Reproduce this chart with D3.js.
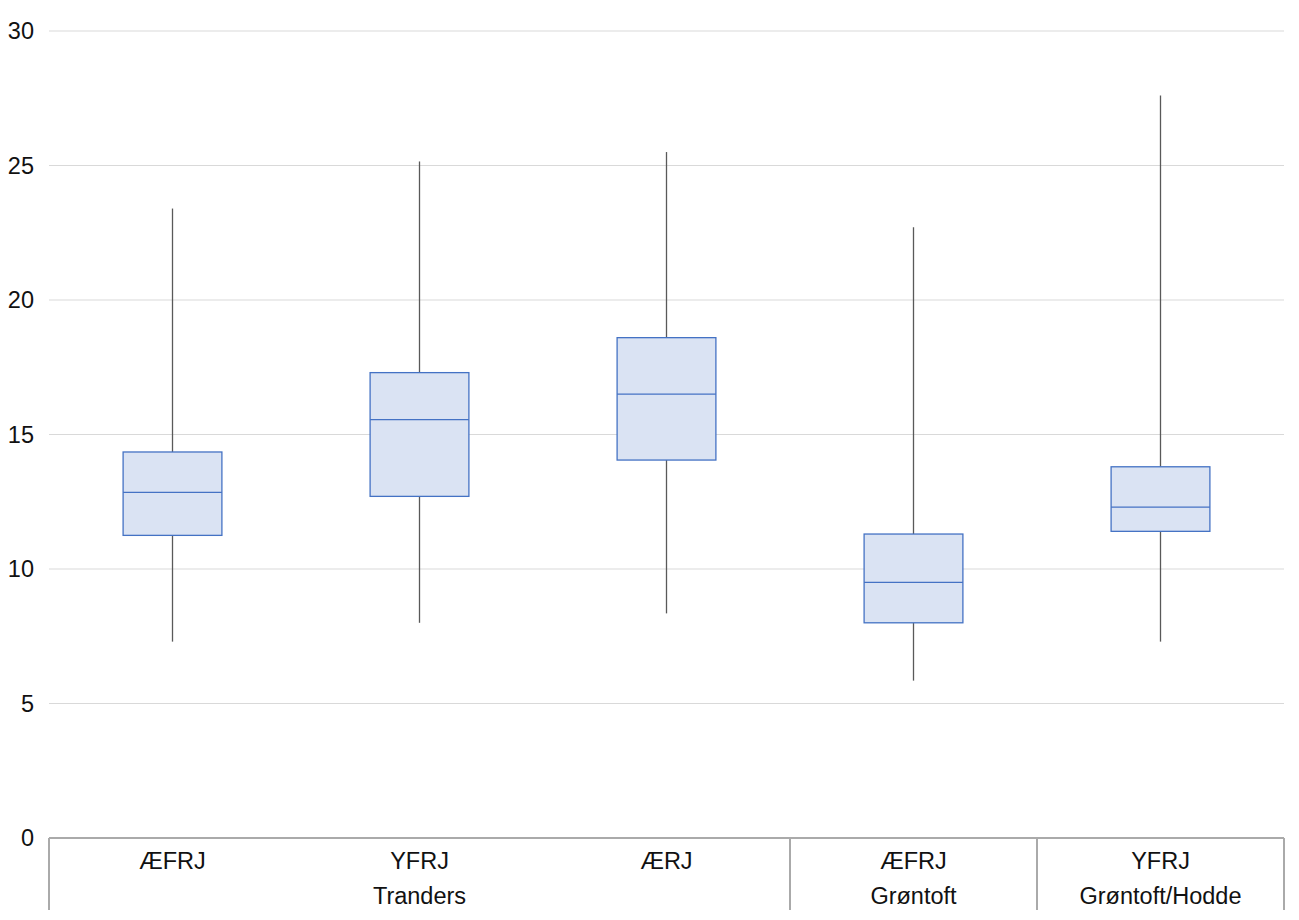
<!DOCTYPE html>
<html>
<head>
<meta charset="utf-8">
<script src="https://cdn.jsdelivr.net/npm/d3@7"></script>
<style>
  body { margin: 0; background: #fff; }
  svg text { font-family: "Liberation Sans", Arial, sans-serif; fill: #111; }
</style>
</head>
<body>
<svg id="chart" width="1299" height="920"></svg>
<script>
// categories and group labels
var categories = ["ÆFRJ", "YFRJ", "ÆRJ", "ÆFRJ", "YFRJ"];
var groups = [
    { name: "Tranders", span: 3 },
    { name: "Grøntoft", span: 1 },
    { name: "Grøntoft/Hodde", span: 1 }
];

// box plot values per category
var whiskerMin = [7.3, 8.0, 8.35, 5.85, 7.3];
var q1 = [11.25, 12.7, 14.05, 8.0, 11.4];
var median = [12.85, 15.55, 16.5, 9.5, 12.3];
var q3 = [14.35, 17.3, 18.6, 11.3, 13.8];
var whiskerMax = [23.4, 25.15, 25.5, 22.7, 27.6];

var yTicks = [0, 5, 10, 15, 20, 25, 30];

var svg = d3.select("#chart");
var plotLeft = 49, plotRight = 1284, plotTop = 31, plotBottom = 838;
var fontSize = "23.5px";

var xScale = d3.scaleBand()
    .domain(d3.range(categories.length))
    .range([plotLeft, plotRight]);

var yScale = d3.scaleLinear()
    .domain([0, 30])
    .range([plotBottom, plotTop]);

// grid lines
svg.append("g")
    .attr("class", "grid")
    .selectAll("line")
    .data(yTicks.filter(d => d > 0))
    .enter().append("line")
    .attr("x1", plotLeft)
    .attr("x2", plotRight)
    .attr("y1", d => yScale(d))
    .attr("y2", d => yScale(d))
    .style("stroke", "#d9d9d9")
    .style("stroke-width", 1);

// y axis labels
var yAxis = svg.append("g")
    .attr("transform", `translate(${plotLeft},0)`)
    .call(d3.axisLeft(yScale).tickValues(yTicks).tickSize(0).tickPadding(15));
yAxis.select(".domain").remove();
yAxis.selectAll("text")
    .style("font-size", fontSize)
    .style("font-family", "Liberation Sans, Arial, sans-serif")
    .attr("fill", "#111");

var data = categories.map((c, i) => ({
    i: i,
    min: whiskerMin[i],
    q1: q1[i],
    median: median[i],
    q3: q3[i],
    max: whiskerMax[i]
}));

var boxW = xScale.bandwidth() * 0.4;
var cx = d => xScale(d.i) + xScale.bandwidth() / 2;

var boxes = svg.append("g").selectAll(".box")
    .data(data)
    .enter().append("g")
    .attr("class", "box");

// whiskers
boxes.append("line")
    .attr("x1", cx).attr("x2", cx)
    .attr("y1", d => yScale(d.max))
    .attr("y2", d => yScale(d.q3))
    .style("stroke", "#595959")
    .style("stroke-width", 1.3);

boxes.append("line")
    .attr("x1", cx).attr("x2", cx)
    .attr("y1", d => yScale(d.q1))
    .attr("y2", d => yScale(d.min))
    .style("stroke", "#595959")
    .style("stroke-width", 1.3);

boxes.append("rect")
    .attr("x", d => cx(d) - boxW / 2)
    .attr("y", d => yScale(d.q3))
    .attr("width", boxW)
    .attr("height", d => yScale(d.q1) - yScale(d.q3))
    .style("fill", "#dae3f3")
    .style("stroke", "#4472c4")
    .style("stroke-width", 1.3);

boxes.append("line")
    .attr("x1", d => cx(d) - boxW / 2)
    .attr("x2", d => cx(d) + boxW / 2)
    .attr("y1", d => yScale(d.median))
    .attr("y2", d => yScale(d.median))
    .style("stroke", "#4472c4")
    .style("stroke-width", 1.3);

// baseline
svg.append("line")
    .attr("x1", plotLeft).attr("x2", plotRight)
    .attr("y1", plotBottom).attr("y2", plotBottom)
    .style("stroke", "#aaaaaa")
    .style("stroke-width", 2);

// category labels
svg.append("g").selectAll("text")
    .data(categories)
    .enter().append("text")
    .attr("x", (d, i) => xScale(i) + xScale.bandwidth() / 2)
    .attr("y", 869)
    .attr("text-anchor", "middle")
    .style("font-size", fontSize)
    .text(d => d);

// group labels and dividers
var start = 0;
var dividers = [0];
groups.forEach(g => {
    g.start = start;
    start += g.span;
    dividers.push(start);
});

svg.append("g").selectAll("line")
    .data(dividers)
    .enter().append("line")
    .attr("x1", d => d < categories.length ? xScale(d) : plotRight)
    .attr("x2", d => d < categories.length ? xScale(d) : plotRight)
    .attr("y1", plotBottom)
    .attr("y2", 910)
    .style("stroke", "#aaaaaa")
    .style("stroke-width", 2);

svg.append("g").selectAll("text")
    .data(groups)
    .enter().append("text")
    .attr("x", g => xScale(g.start) + xScale.bandwidth() * g.span / 2)
    .attr("y", 904)
    .attr("text-anchor", "middle")
    .style("font-size", fontSize)
    .text(g => g.name);
</script>
</body>
</html>
